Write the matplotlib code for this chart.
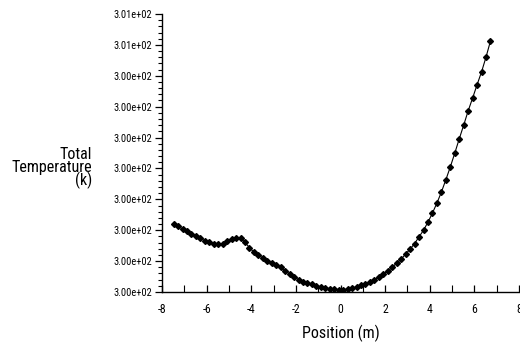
import matplotlib
matplotlib.use("Agg")
import matplotlib.pyplot as plt
from matplotlib.ticker import FixedLocator, MultipleLocator, FormatStrFormatter, AutoMinorLocator

plt.rcParams['font.family'] = ['Roboto Condensed', 'DejaVu Sans']
plt.rcParams['axes.unicode_minus'] = False

position = [-7.48, -7.28, -7.08, -6.88, -6.68, -6.48, -6.28, -6.08, -5.88, -5.68,
            -5.48, -5.28, -5.08, -4.88, -4.68, -4.48, -4.28, -4.08, -3.88, -3.68,
            -3.48, -3.28, -3.08, -2.88, -2.68, -2.48, -2.28, -2.08, -1.88, -1.68,
            -1.48, -1.28, -1.08, -0.88, -0.68, -0.48, -0.28, -0.08, 0.12, 0.32,
            0.52, 0.72, 0.92, 1.12, 1.32, 1.52, 1.72, 1.92, 2.12, 2.32,
            2.52, 2.72, 2.92, 3.12, 3.32, 3.52, 3.72, 3.92, 4.12, 4.32,
            4.52, 4.72, 4.92, 5.12, 5.32, 5.52, 5.72, 5.92, 6.12, 6.32,
            6.52, 6.72]
temperature = [300.143, 300.138, 300.133, 300.128, 300.123, 300.118, 300.113, 300.108, 300.105, 300.102,
               300.101, 300.102, 300.107, 300.112, 300.114, 300.113, 300.105, 300.093, 300.084, 300.077,
               300.072, 300.066, 300.061, 300.057, 300.052, 300.045, 300.038, 300.032, 300.026, 300.022,
               300.019, 300.016, 300.013, 300.011, 300.008, 300.007, 300.006, 300.005, 300.005, 300.006,
               300.008, 300.011, 300.014, 300.017, 300.021, 300.025, 300.032, 300.038, 300.044, 300.052,
               300.061, 300.069, 300.080, 300.090, 300.102, 300.116, 300.130, 300.147, 300.166, 300.187,
               300.210, 300.236, 300.263, 300.292, 300.322, 300.351, 300.381, 300.408, 300.436, 300.463,
               300.494, 300.528]
y_ticks = [300.000, 300.065, 300.130, 300.195, 300.260, 300.325, 300.390, 300.455, 300.520, 300.585]
x_ticks = [-8, -6, -4, -2, 0, 2, 4, 6, 8]

fig = plt.figure(figsize=(5.2, 3.44), dpi=100)
ax = fig.add_axes([162/520, 52/344, 357/520, 278/344])
ax.plot(position, temperature, color='black', lw=0.8, marker='D', ms=3.0, mec='black', mfc='black')

ax.set_xlim(-8, 8)
ax.set_ylim(y_ticks[0], y_ticks[-1])
ax.yaxis.set_major_locator(FixedLocator(y_ticks))
ax.yaxis.set_major_formatter(FormatStrFormatter('%.2e'))
ax.yaxis.set_minor_locator(AutoMinorLocator(5))
ax.xaxis.set_major_locator(FixedLocator(x_ticks))
ax.xaxis.set_minor_locator(MultipleLocator(1))

for s in ['top', 'right']:
    ax.spines[s].set_visible(False)
for s in ['left', 'bottom']:
    ax.spines[s].set_linewidth(1.0)

ax.tick_params(axis='y', which='major', direction='out', length=5, width=0.9, labelsize=7.5, pad=2)
ax.tick_params(axis='y', which='minor', direction='out', length=3, width=0.8)
ax.tick_params(axis='x', which='major', direction='in', length=5, width=0.9, labelsize=8.5, pad=8)
ax.tick_params(axis='x', which='minor', direction='in', length=5, width=0.8)

ax.set_xlabel('Position (m)', fontsize=11.5, labelpad=6)
fig.text(92/520, 1 - 168/344, 'Total\nTemperature\n(k)', ha='right', va='center',
         multialignment='right', fontsize=11.5, linespacing=0.8)

fig.savefig('out.png', dpi=100)
